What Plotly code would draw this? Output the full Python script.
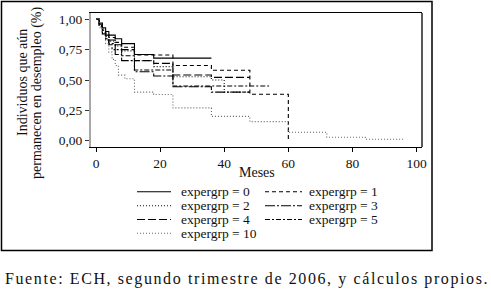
import plotly.graph_objects as go

# ---------------- data ----------------
groups = ["0", "1", "2", "3", "4", "5", "10"]

t_g0 = [0, 1, 2, 3, 4, 6, 8, 12, 18, 36]
s_g0 = [1, 0.97, 0.93, 0.90, 0.87, 0.84, 0.80, 0.71, 0.68, 0.68]

t_g1 = [0, 1, 2, 3, 4, 6, 8, 12, 24, 36, 48, 60]
s_g1 = [1, 0.96, 0.92, 0.88, 0.85, 0.81, 0.77, 0.706, 0.62, 0.58, 0.382, 0.0]

t_g2 = [0, 1, 2, 3, 4, 6, 8, 12, 18, 24, 36, 40, 48]
s_g2 = [1, 0.95, 0.90, 0.86, 0.82, 0.78, 0.74, 0.66, 0.61, 0.527, 0.50, 0.40, 0.40]

t_g3 = [0, 1, 2, 3, 4, 5, 6, 8, 12, 18, 24, 36, 48]
s_g3 = [1, 0.94, 0.88, 0.83, 0.79, 0.75, 0.71, 0.66, 0.568, 0.533, 0.445, 0.40, 0.40]

t_g4 = [0, 1, 2, 3, 4, 6, 8, 12, 18, 24, 36, 48]
s_g4 = [1, 0.96, 0.91, 0.87, 0.83, 0.79, 0.75, 0.66, 0.637, 0.541, 0.522, 0.522]

t_g5 = [0, 1, 2, 3, 4, 6, 8, 12, 24, 54]
s_g5 = [1, 0.95, 0.89, 0.84, 0.80, 0.75, 0.70, 0.582, 0.45, 0.45]

t_g10 = [0, 1, 2, 3, 4, 5, 6, 7, 9, 12, 18, 24, 36, 48, 60, 72, 84, 96]
s_g10 = [1, 0.93, 0.87, 0.80, 0.73, 0.67, 0.62, 0.54, 0.51, 0.40, 0.38, 0.27, 0.20, 0.157, 0.069, 0.028, 0.012, 0.012]

x_ticks = [0, 20, 40, 60, 80, 100]
y_ticks = [0, 0.25, 0.5, 0.75, 1.0]
y_ticktext = ["0,00", "0,25", "0,50", "0,75", "1,00"]

x_title = "Meses"
y_title_1 = "Individuos que aún"
y_title_2 = "permanecen en desempleo (%)"
footer = "Fuente: ECH, segundo trimestre de 2006, y cálculos propios."

# ---------------- styles ----------------
series = [(t_g0, s_g0), (t_g1, s_g1), (t_g2, s_g2), (t_g3, s_g3),
          (t_g4, s_g4), (t_g5, s_g5), (t_g10, s_g10)]
dashes = ["solid", "4px,3px", "1px,2px", "10px,2px,2px,2px", "8px,3px",
          "5px,2px,2px,2px", "1px,2px"]
colors = ["#000", "#000", "#111", "#000", "#000", "#000", "#666"]

W, H = 491, 293
L, R, T, B = 91, 69, 13, 146
PW, PH = W - L - R, H - T - B
FONT = "'Liberation Serif', 'Times New Roman', 'DejaVu Serif', serif"


def px(xp):
    return (xp - L) / PW


def py(yp):
    return (H - B - yp) / PH


fig = go.Figure()
for (t, s), d, c, g in zip(series, dashes, colors, groups):
    fig.add_trace(go.Scatter(x=t, y=s, mode="lines", line_shape="hv",
                             line=dict(color=c, width=1.1, dash=d),
                             name=f"expergrp = {g}", showlegend=False))

shapes = []
annotations = []

# right border of the plot area
shapes.append(dict(type="line", xref="paper", yref="paper", x0=1, x1=1, y0=0, y1=1,
                   line=dict(color="black", width=1.3)))
# outer frame
shapes.append(dict(type="rect", xref="paper", yref="paper",
                   x0=px(1.5), x1=px(432), y0=py(1.5), y1=py(250.5),
                   line=dict(color="black", width=1.5)))

# manual legend (2 columns, row-major)
col_x = [(137, 171, 179), (265, 302, 307)]
row_y = [191.7, 205.7, 219.5, 233.3]
for i, g in enumerate(groups):
    r, cidx = divmod(i, 2)
    x0, x1, xt = col_x[cidx]
    y = row_y[r]
    shapes.append(dict(type="line", xref="paper", yref="paper",
                       x0=px(x0), x1=px(x1), y0=py(y), y1=py(y),
                       line=dict(color=colors[i], width=1.1, dash=dashes[i])))
    annotations.append(dict(text=f"expergrp = {g}", xref="paper", yref="paper",
                            x=px(xt), y=py(y), xanchor="left", yanchor="middle",
                            showarrow=False, font=dict(family=FONT, size=13.5, color="#111")))

annotations.append(dict(text=x_title, xref="paper", yref="paper", x=0.5, y=py(172.7),
                        xanchor="center", yanchor="middle", showarrow=False,
                        font=dict(family=FONT, size=14, color="#111")))
annotations.append(dict(text=y_title_1, xref="paper", yref="paper", x=px(22), y=py(83),
                        xanchor="center", yanchor="middle", textangle=-90, showarrow=False,
                        font=dict(family=FONT, size=14, color="#111")))
annotations.append(dict(text=y_title_2, xref="paper", yref="paper", x=px(37), y=py(93),
                        xanchor="center", yanchor="middle", textangle=-90, showarrow=False,
                        font=dict(family=FONT, size=14, color="#111")))
annotations.append(dict(text=f'<span style="letter-spacing:1.6px">{footer}</span>',
                        xref="paper", yref="paper", x=px(3), y=py(279),
                        xanchor="left", yanchor="middle", showarrow=False,
                        font=dict(family=FONT, size=16, color="#111")))

fig.update_layout(
    width=W, height=H,
    margin=dict(l=L, r=R, t=T, b=B, pad=0),
    paper_bgcolor="white", plot_bgcolor="white",
    showlegend=False,
    shapes=shapes, annotations=annotations,
    font=dict(family=FONT, color="#111"),
)
fig.update_xaxes(range=[-1.56, 101.7], tickvals=x_ticks, ticks="outside", ticklen=4,
                 tickwidth=1, tickcolor="black", showgrid=False, zeroline=False,
                 showline=True, linecolor="black", linewidth=1.3, mirror=True,
                 tickfont=dict(family=FONT, size=13.5, color="#111"))
fig.update_yaxes(range=[-0.052, 1.052], tickvals=y_ticks, ticktext=y_ticktext,
                 ticks="outside", ticklen=4, tickwidth=1, tickcolor="#333",
                 showgrid=False, zeroline=False, showline=True, linecolor="#a8a8a8",
                 linewidth=2, mirror=False,
                 tickfont=dict(family=FONT, size=13.5, color="#111"))

fig.write_html("out.html", config={"displayModeBar": False},
               post_script="document.body.style.margin='0px';")
